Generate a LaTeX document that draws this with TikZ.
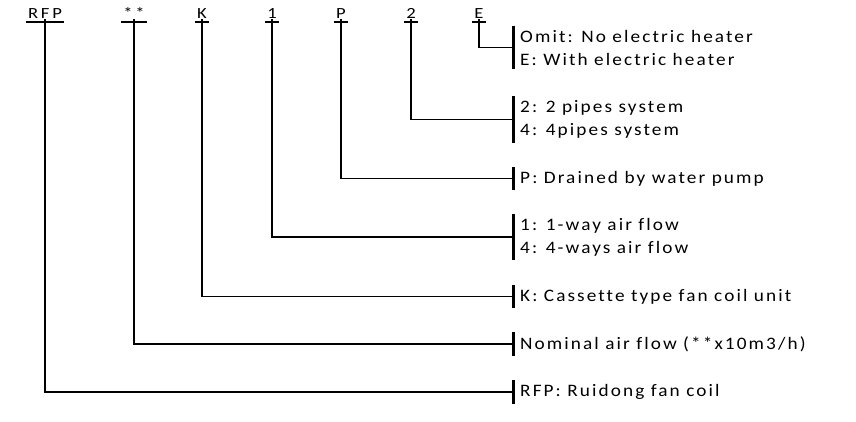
\documentclass[tikz,border=0pt]{standalone}
\usepackage{fontspec}
\setmainfont{Carlito}[LetterSpace=12, FakeStretch=1.1, Ligatures={NoCommon}]
\newfontfamily\codefont{Carlito}[LetterSpace=18, FakeStretch=1.2]
\usepackage{tikz}
\usetikzlibrary{calc}

\begin{document}
\begin{tikzpicture}[
    x=1pt, y=-1pt,
    font=\fontsize{17.5}{23}\selectfont,
    code/.style={anchor=base, inner xsep=2pt, inner ysep=0pt, font=\codefont\fontsize{15.5}{18}\selectfont},
    desc/.style={anchor=west, align=left, inner xsep=7pt, inner ysep=4pt},
    uline/.style={line width=1.8pt},
    bar/.style={line width=3pt},
    link/.style={line width=1.4pt}
  ]
    \useasboundingbox (0,0) rectangle (856,422);
    % code letters on top
    \node[code] (rfp) at (45,19) {RFP};
    \node[code] (air) at (134,19) {**};
    \node[code] (kind) at (202,19) {K};
    \node[code] (way) at (272,19) {1};
    \node[code] (pump) at (341,19) {P};
    \node[code] (pipe) at (411,19) {2};
    \node[code] (heat) at (479,19) {E};

    % explanations on the right
    \node[desc] (dheat) at (513,47.5) {Omit: No electric heater\\E: With electric heater};
    \node[desc] (dpipe) at (513,119.5) {2: 2 pipes system\\4: 4pipes system};
    \node[desc] (dpump) at (513,178.5) {P: Drained by water pump};
    \node[desc] (dway) at (513,237) {1: 1-way air flow\\4: 4-ways air flow};
    \node[desc] (dkind) at (513,296.5) {K: Cassette type fan coil unit};
    \node[desc] (dair) at (513,344) {Nominal air flow (**x10m3/h)};
    \node[desc] (drfp) at (513,392) {RFP: Ruidong fan coil};

    \foreach \c in {rfp,air,kind,way,pump,pipe,heat}
      \draw[uline] ([yshift=-3pt]\c.base west) -- ([yshift=-3pt]\c.base east);
    \foreach \d in {dheat,dpipe,dpump,dway,dkind,dair,drfp}
      \draw[bar] (\d.north west) -- (\d.south west);

    \draw[link] (rfp.south) |- (drfp.west);
    \draw[link] (air.south) |- (dair.west);
    \draw[link] (kind.south) |- (dkind.west);
    \draw[link] (way.south) |- (dway.west);
    \draw[link] (pump.south) |- (dpump.west);
    \draw[link] (pipe.south) |- (dpipe.west);
    \draw[link] (heat.south) |- (dheat.west);
  \end{tikzpicture}
\end{document}
